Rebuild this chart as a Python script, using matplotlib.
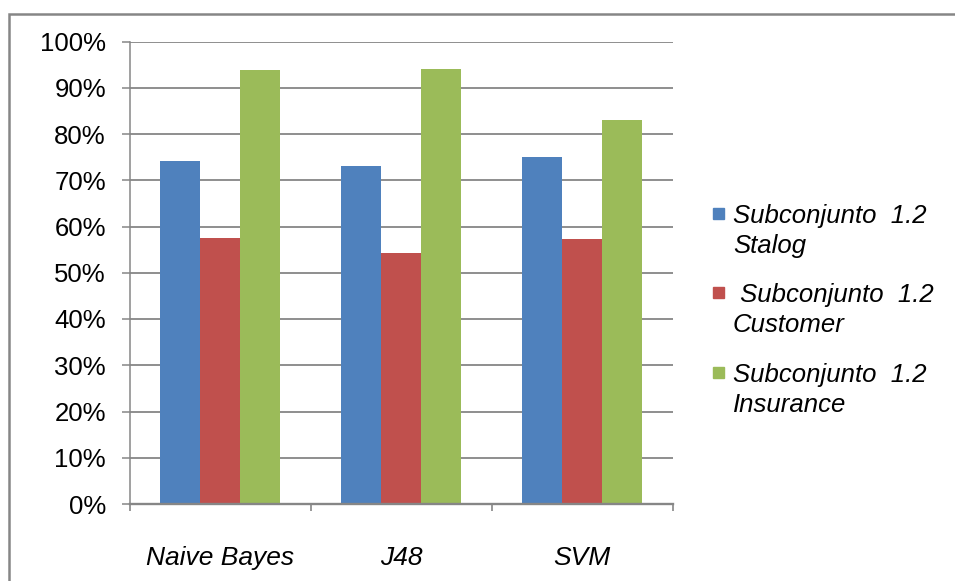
import numpy as np
import matplotlib
matplotlib.use("Agg")
import matplotlib.pyplot as plt
from matplotlib.patches import Rectangle
from matplotlib.ticker import FixedLocator, PercentFormatter

# precision per classifier and subset
clasificadores = ["Naive Bayes", "J48", "SVM"]
series = ["Subconjunto  1.2\nStalog", " Subconjunto  1.2\nCustomer", "Subconjunto  1.2\nInsurance"]
stalog = [74.2, 73.1, 75.0]
customer = [57.5, 54.3, 57.3]
insurance = [93.8, 94.1, 83.0]
valores = [stalog, customer, insurance]
colores = ["#4F81BD", "#C0504D", "#9BBB59"]

plt.rcParams["font.family"] = ["Liberation Sans", "DejaVu Sans"]
gris = "#868686"

fig = plt.figure(figsize=(9.55, 5.81), dpi=100)
ax = fig.add_axes([129.5/955, 1-504/581, 543/955, 462.5/581])

x = np.arange(len(clasificadores))
w = 0.221
for i, (vals, c) in enumerate(zip(valores, colores)):
    ax.bar(x + (i-1)*w, vals, w, color=c, zorder=3)

ax.set_xlim(-0.5, 2.5)
ax.set_ylim(0, 100)
ax.set_yticks(np.arange(0, 101, 10))
ax.yaxis.set_major_formatter(PercentFormatter(decimals=0))
ax.grid(axis="y", color=gris, lw=1.3, zorder=0)

# category separators as major ticks, names on minor ticks
ax.xaxis.set_major_locator(FixedLocator([-0.5, 0.5, 1.5, 2.5]))
ax.xaxis.set_minor_locator(FixedLocator(x))
ax.set_xticklabels([])
ax.set_xticklabels(clasificadores, minor=True, fontsize=19, style="italic")
ax.tick_params(axis="x", which="major", length=5, color=gris, width=1.2)
ax.tick_params(axis="x", which="minor", length=0, pad=30)
ax.tick_params(axis="y", length=6, color=gris, width=1.1, labelsize=18.5, pad=11)

for s in ["top", "right"]:
    ax.spines[s].set_visible(False)
ax.spines["left"].set_color(gris)
ax.spines["left"].set_linewidth(1.1)
ax.spines["bottom"].set_color(gris)
ax.spines["bottom"].set_linewidth(1.7)
ax.spines["bottom"].set_zorder(4)

# legend
base = [223, 302, 382]
for lab, c, b in zip(series, colores, base):
    l1, l2 = lab.split("\n")
    fig.patches.append(Rectangle((713/955, 1-(b-4)/581), 11/955, 11/581,
                                 transform=fig.transFigure, color=c))
    fig.text(733/955, 1-b/581, l1, fontsize=18.5, style="italic", va="baseline")
    fig.text(733/955, 1-(b+30)/581, l2, fontsize=18.5, style="italic", va="baseline")

# outer frame
fig.patches.append(Rectangle((9/955, -0.2), 1.5, 1.2-13.5/581, transform=fig.transFigure,
                             fill=False, edgecolor=gris, lw=1.8))

fig.savefig("out.png", dpi=100)
